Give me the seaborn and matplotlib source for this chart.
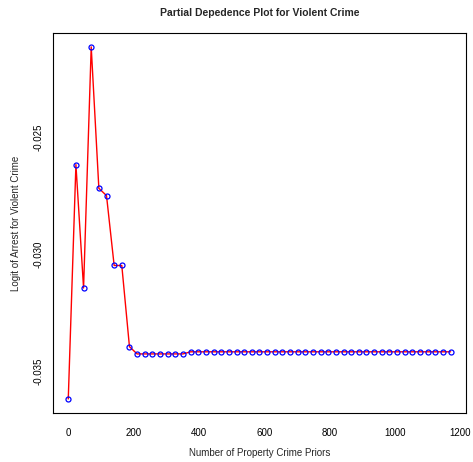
import numpy as np
import pandas as pd
import matplotlib
matplotlib.use("Agg")
import matplotlib.pyplot as plt
import seaborn as sns

# partial dependence values (51 grid points)
n_priors = np.linspace(0, 1170, 51)
logit_head = [-0.03616, -0.02617, -0.03143, -0.02115, -0.02718, -0.02749,
              -0.03047, -0.03047, -0.03393]
logit_low = [-0.03424] * 7
logit_tail = [-0.03415] * 35
logit = logit_head + logit_low + logit_tail

x_ticks = [0, 200, 400, 600, 800, 1000, 1200]
y_ticks = [-0.035, -0.030, -0.025]

df = pd.DataFrame({"priors": n_priors, "logit": logit})

sns.set_style("white")
plt.rcParams["font.family"] = ["Liberation Sans", "DejaVu Sans"]
plt.rcParams["axes.unicode_minus"] = False

fig = plt.figure(figsize=(4.73, 4.62), dpi=100)
ax = fig.add_axes([0.112, 0.106, 0.873, 0.823])

sns.lineplot(data=df, x="priors", y="logit", ax=ax, color="red", linewidth=1.0,
             marker="o", markersize=3.6, markerfacecolor="none",
             markeredgecolor="blue", markeredgewidth=0.9)

ax.set_xlim(-46.8, 1216.8)
ax.set_ylim(-0.03676, -0.02055)
ax.set_xticks(x_ticks)
ax.set_xticklabels([str(t) for t in x_ticks])
ax.set_yticks(y_ticks)
ax.set_yticklabels([f"{t:.3f}" for t in y_ticks], rotation=90, va="center")
ax.tick_params(axis="x", direction="out", length=5, width=0.8,
               labelsize=7, pad=6, colors="black")
ax.tick_params(axis="y", direction="out", length=5, width=0.8,
               labelsize=7, pad=2, colors="black")

for s in ax.spines.values():
    s.set_visible(True)
    s.set_color("black")
    s.set_linewidth(0.8)

ax.set_xlabel("Number of Property Crime Priors", fontsize=7, labelpad=7)
ax.set_ylabel("Logit of Arrest for Violent Crime", fontsize=7, labelpad=9)
ax.set_title("Partial Depedence Plot for Violent Crime", fontsize=7.5,
             fontweight="bold", pad=12)

fig.savefig("out.png", dpi=100)
